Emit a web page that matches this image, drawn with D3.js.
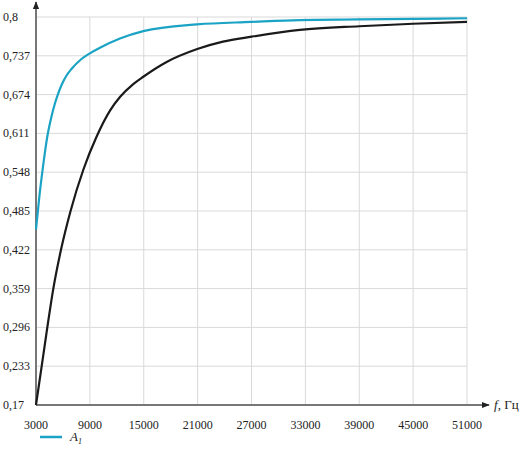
<!DOCTYPE html>
<html>
<head>
<meta charset="utf-8">
<script src="https://cdn.jsdelivr.net/npm/d3@7"></script>
<style>
body { margin: 0; background: #fff; }
svg text { font-family: "Liberation Serif", "DejaVu Serif", serif; font-size: 12px; fill: #222; }
</style>
</head>
<body>
<svg id="chart" width="520" height="455"></svg>
<script>
// tick values
var xTicks = [3000, 9000, 15000, 21000, 27000, 33000, 39000, 45000, 51000];
var yTicks = [0.17, 0.233, 0.296, 0.359, 0.422, 0.485, 0.548, 0.611, 0.674, 0.737, 0.8];

// cyan curve (A1)
var cyanF = [3000, 3370, 3745, 4260, 4700, 5115, 5500, 5860, 6400, 6975, 8000, 9000, 10120, 12350, 14950, 20960, 27000, 32390, 39000, 45000, 51000];
var cyanV = [0.455, 0.508, 0.553, 0.606, 0.637, 0.660, 0.677, 0.690, 0.705, 0.716, 0.731, 0.741, 0.750, 0.765, 0.777, 0.788, 0.792, 0.795, 0.796, 0.797, 0.798];

// black curve
var blackF = [3000, 3634, 4260, 4930, 5783, 6850, 8270, 9755, 11240, 12350, 13830, 14950, 17550, 20960, 23820, 27010, 32390, 39000, 45000, 51000];
var blackV = [0.17, 0.233, 0.296, 0.359, 0.422, 0.485, 0.552, 0.606, 0.648, 0.670, 0.691, 0.703, 0.727, 0.748, 0.760, 0.768, 0.779, 0.785, 0.789, 0.792];

var svg = d3.select("#chart");
var pLeft = 36, pRight = 467, pTop = 17, pBottom = 405;

var x = d3.scaleLinear().domain([3000, 51000]).range([pLeft, pRight]);
var y = d3.scaleLinear().domain([0.17, 0.8]).range([pBottom, pTop]);

var fmt = function (d) { return String(d).replace(".", ","); };

// grid
svg.append("g").selectAll("line").data(xTicks.slice(1)).enter().append("line")
	.attr("x1", d => x(d)).attr("x2", d => x(d))
	.attr("y1", pTop).attr("y2", pBottom)
	.style("stroke", "#d9d9d9").style("stroke-width", 1);
svg.append("g").selectAll("line").data(yTicks.slice(1)).enter().append("line")
	.attr("x1", pLeft).attr("x2", pRight)
	.attr("y1", d => y(d)).attr("y2", d => y(d))
	.style("stroke", "#d9d9d9").style("stroke-width", 1);

// axes with arrows
var defs = svg.append("defs");
defs.append("marker").attr("id", "arr").attr("viewBox", "0 0 10 10")
	.attr("refX", 9).attr("refY", 5).attr("markerWidth", 4).attr("markerHeight", 4)
	.attr("orient", "auto")
	.append("path").attr("d", "M0,1 L10,5 L0,9 Z").style("fill", "#222");

svg.append("line").attr("x1", pLeft).attr("x2", 489).attr("y1", pBottom).attr("y2", pBottom)
	.style("stroke", "#777").style("stroke-width", 2).attr("marker-end", "url(#arr)");
svg.append("line").attr("x1", pLeft).attr("x2", pLeft).attr("y1", pBottom).attr("y2", 2)
	.style("stroke", "#777").style("stroke-width", 2).attr("marker-end", "url(#arr)");

// tick labels
svg.append("g").selectAll("text").data(xTicks).enter().append("text")
	.attr("x", d => x(d)).attr("y", 429)
	.style("text-anchor", "middle")
	.text(d => d);
svg.append("g").selectAll("text").data(yTicks).enter().append("text")
	.attr("x", 3).attr("y", d => y(d) + 4)
	.text(fmt);

// axis label
var xl = svg.append("text").attr("x", 494).attr("y", 409).style("font-size", "13px");
xl.append("tspan").style("font-style", "italic").text("f");
xl.append("tspan").text(", Гц");

// curves
var line = d3.line().x(d => x(d[0])).y(d => y(d[1])).curve(d3.curveMonotoneX);
svg.append("path").datum(blackF.map((f, i) => [f, blackV[i]]))
	.attr("d", line).style("fill", "none").style("stroke", "#1a1a1a").style("stroke-width", 2.2);
svg.append("path").datum(cyanF.map((f, i) => [f, cyanV[i]]))
	.attr("d", line).style("fill", "none").style("stroke", "#1aa3c4").style("stroke-width", 2.2);

// legend
svg.append("line").attr("x1", 40).attr("x2", 62).attr("y1", 437).attr("y2", 437)
	.style("stroke", "#1aa3c4").style("stroke-width", 2.5);
var lg = svg.append("text").attr("x", 70).attr("y", 441).style("font-size", "13px");
lg.append("tspan").style("font-style", "italic").text("A");
lg.append("tspan").attr("dy", 3).style("font-size", "8px").style("font-style", "italic").text("1");
</script>
</body>
</html>
